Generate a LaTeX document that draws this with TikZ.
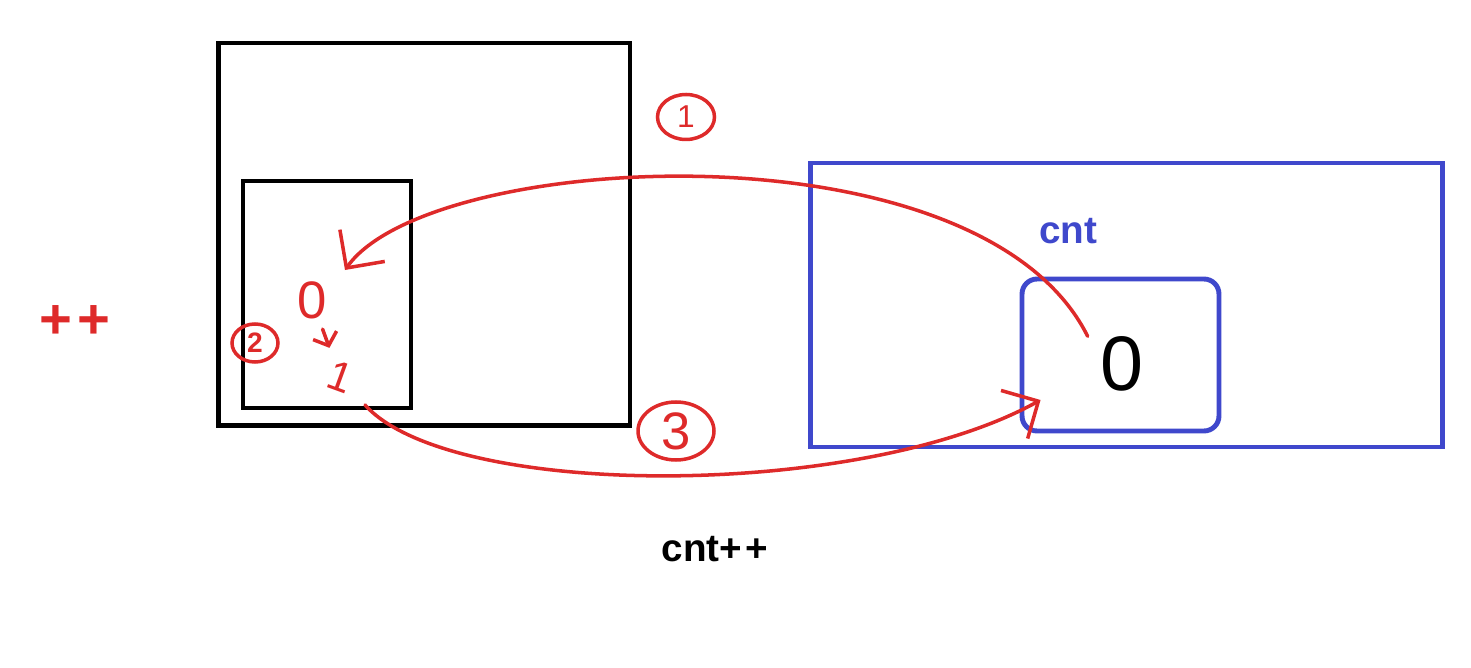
\documentclass[tikz,border=0pt]{standalone}
\usepackage{fontspec}
\setmainfont{Liberation Sans}
\usepackage{tikz}
\usetikzlibrary{shapes, arrows.meta, positioning, calc}
\definecolor{penred}{HTML}{DE2A2A}
\definecolor{indigo}{HTML}{3F48CC}
\tikzstyle{block} = [rectangle, draw, line width=2.8pt, inner sep=0pt]
\tikzstyle{blueblock} = [block, draw=indigo]
\tikzstyle{pen} = [draw=penred, line width=2pt, line cap=round, line join=round]
\tikzstyle{barb} = [-{Straight Barb[length=0.55cm, width=1.1cm]}]
\tikzstyle{circled} = [ellipse, draw=penred, line width=2pt, text=penred, inner sep=0pt]
\tikzstyle{scribble} = [text=penred, inner sep=2pt]

\begin{document}
\begin{tikzpicture}[x=0.02cm, y=-0.02cm]
		\useasboundingbox (0,0) rectangle (1471,668);

		% left side: outer and inner frames
		\node [block, minimum width=8.24cm, minimum height=7.66cm] (outer) at (424,234.5) {};
		\node [block, minimum width=3.36cm, minimum height=4.54cm] (inner) at (327,294.5) {};

		% right side: the shared counter
		\node [blueblock, minimum width=12.66cm, minimum height=5.68cm] (shared) at (1126.5,305) {};
		\node [blueblock, rounded corners=0.3cm, minimum width=3.94cm, minimum height=3.04cm] (cntbox) at (1120.5,355) {};
		\node [text=indigo, font=\bfseries\fontsize{22}{26}\selectfont] (cntlabel) at (1068,231) {cnt};
		\node [inner sep=0pt, font=\fontsize{44}{48}\selectfont] (val) at (1122,364) {0};

		\node [font=\bfseries\fontsize{22}{26}\selectfont] (incr) at (715,549) {cnt+\kern2pt+};

		% handwritten marks
		\node [scribble, font=\bfseries\fontsize{32}{36}\selectfont] (plusplus) at (75,322) {+\kern3pt+};
		\node [scribble, font=\fontsize{30}{34}\selectfont] (zero) at (312,300) {0};
		\node [scribble, rotate=-20, font=\fontsize{24}{28}\selectfont] (one) at (340,377) {1};

		\node [circled, minimum width=1.14cm, minimum height=0.9cm, font=\fontsize{18}{20}\selectfont] (stepA) at (686,117) {1};
		\node [circled, minimum width=0.92cm, minimum height=0.76cm, font=\bfseries\fontsize{16}{18}\selectfont] (stepB) at (255,343) {2};
		\node [circled, minimum width=1.52cm, minimum height=1.16cm, font=\fontsize{30}{34}\selectfont] (stepC) at (676,431) {3};

		\coordinate (outlet) at ([xshift=-0.25cm]val.north west);
		\coordinate (landing) at ([xshift=0.66cm, yshift=0.6cm]zero.center);
		\coordinate (inlet) at ([xshift=0.42cm, yshift=-0.9cm]cntbox.west);

		\draw[pen, barb] (outlet) .. controls (980,120) and (430,150) .. (landing);
		\draw[pen, -{Straight Barb[length=0.22cm, width=0.5cm]}, shorten <=4pt, shorten >=4pt] (zero) -- (one);
		\draw[pen, barb, shorten <=0.75cm] (one.center) .. controls (450,500) and (860,500) .. (inlet);

	\end{tikzpicture}
\end{document}
